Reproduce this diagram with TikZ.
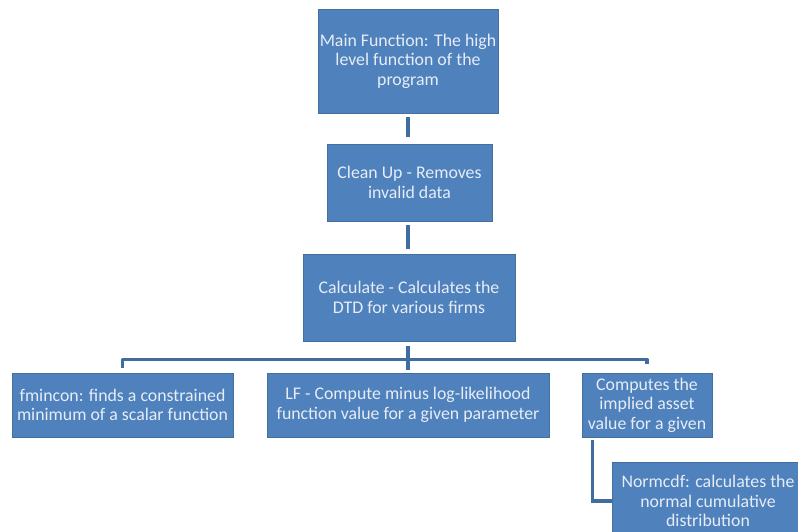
\documentclass[tikz,border=0pt]{standalone}
\usepackage{fontspec}
\setmainfont{Carlito}
\usetikzlibrary{calc}
\definecolor{boxfill}{HTML}{4F81BD}
\definecolor{boxline}{HTML}{41719C}
\definecolor{linkcol}{HTML}{3F6E9E}
\definecolor{boxtext}{HTML}{E6EDF6}
\begin{document}
\begin{tikzpicture}[x=1pt,y=-1pt,
  block/.style={draw=boxline,line width=0.8pt,fill=boxfill,text=boxtext,
    align=center,inner sep=0pt,font=\fontsize{17.8}{19.5}\selectfont},
  link/.style={draw=linkcol,line width=3.6pt}]
\clip (0,0) rectangle (798,531);
\fill[white] (0,0) rectangle (798,531);

% boxes
\node[block,minimum width=180pt,minimum height=104pt] (main) at (408,61)
  {Main Function: The high\\level function of the\\program};
\node[block,minimum width=165pt,minimum height=77pt] (clean) at (409.5,182.5)
  {Clean Up - Removes\\invalid data};
\node[block,minimum width=212pt,minimum height=87pt] (calc) at (409,297.5)
  {Calculate - Calculates the\\DTD for various firms};
\node[block,minimum width=221pt,minimum height=64pt] (fmin) at (122.5,405)
  {fmincon: finds a constrained\\minimum of a scalar function};
\node[block,minimum width=282pt,minimum height=64pt] (lf) at (408,405)
  {LF - Compute minus log-likelihood\\function value for a given parameter};
\node[block,minimum width=130pt,minimum height=64pt] (comp) at (647,405)
  {Computes the\\implied asset\\value for a given};
\node[block,minimum width=192pt,minimum height=78pt] (norm) at (708,501)
  {Normcdf: calculates the\\normal cumulative\\distribution};

% connectors
\coordinate (bus) at ($(calc.south)+(0,18)$);
\draw[link] ([yshift=-4pt]main.south) -- ([yshift=7pt]main.south |- clean.north);
\draw[link] ([yshift=-4pt]main.south |- clean.south) -- ([yshift=5pt]main.south |- calc.north);
\draw[link] ([yshift=-5pt]main.south |- calc.south) -- ([yshift=3pt]main.south |- lf.north);
\draw[link,line join=round] ([yshift=5pt]fmin.north) |- (bus) -| ([yshift=9pt]comp.north);
\coordinate (tap) at ([xshift=11pt,yshift=-3pt]comp.south west);
\draw[link] (tap) |- (norm.west);
\end{tikzpicture}
\end{document}
